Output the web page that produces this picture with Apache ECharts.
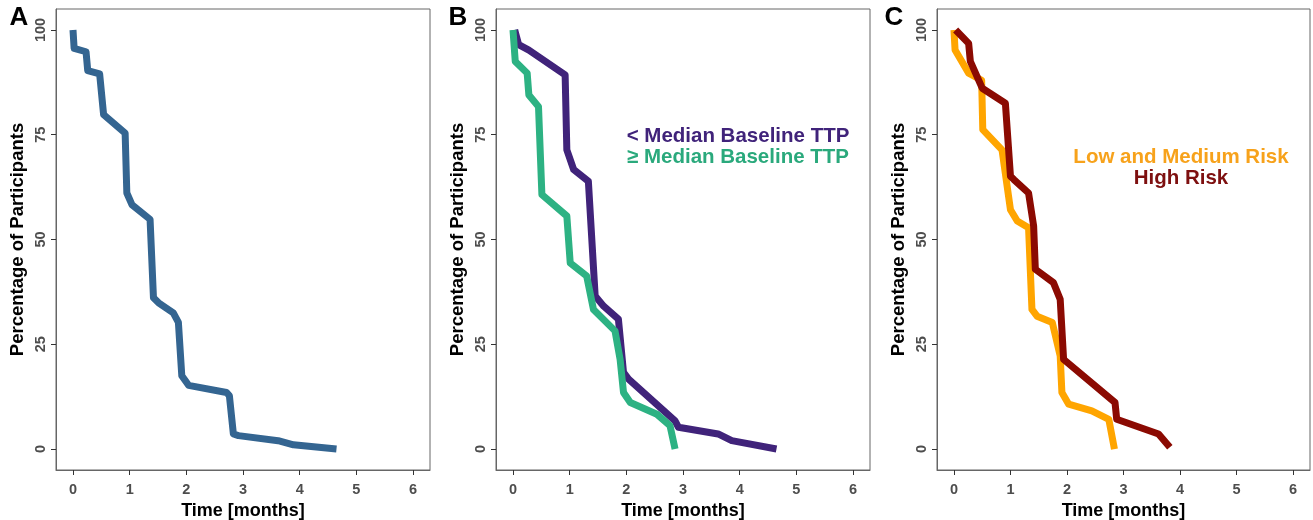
<!DOCTYPE html>
<html>
<head>
<meta charset="utf-8">
<script src="https://cdn.jsdelivr.net/npm/echarts@6/dist/echarts.min.js"></script>
<style>
html,body{margin:0;padding:0;background:#fff;}
#chart{width:1313px;height:520px;}
</style>
</head>
<body>
<div id="chart"></div>
<script>
// ---- Data ----
const xTicks = [0, 1, 2, 3, 4, 5, 6];
const yTicks = [0, 25, 50, 75, 100];

// Panel A: all participants
const timeA = [0, 0.02, 0.23, 0.26, 0.47, 0.54, 0.92, 0.95, 1.04, 1.36, 1.42, 1.51, 1.77, 1.86, 1.92, 2.04, 2.71, 2.76, 2.83, 2.92, 3.62, 3.89, 4.65];
const pctA  = [100, 95.6, 94.8, 90.3, 89.5, 79.8, 75.4, 61.1, 58.3, 54.8, 36.1, 34.9, 32.5, 30.2, 17.5, 15.2, 13.5, 12.7, 3.6, 3.2, 2.0, 1.0, 0];

// Panel B: < median baseline TTP
const timeBlow = [0.03, 0.1, 0.28, 0.92, 0.95, 1.07, 1.33, 1.45, 1.6, 1.86, 1.95, 2.04, 2.86, 2.92, 3.62, 3.86, 4.65];
const pctBlow  = [100, 96.5, 95.2, 89.3, 71.4, 66.7, 63.9, 36.5, 34.1, 31.0, 18.3, 16.7, 6.7, 5.2, 3.6, 2.0, 0];
// Panel B: >= median baseline TTP
const timeBhigh = [0, 0.04, 0.25, 0.28, 0.45, 0.51, 0.95, 1.01, 1.3, 1.42, 1.8, 1.89, 1.95, 2.07, 2.54, 2.77, 2.86];
const pctBhigh  = [100, 92.5, 89.7, 84.5, 81.7, 60.7, 55.6, 44.4, 41.3, 33.3, 28.2, 21.4, 13.5, 11.1, 8.3, 5.6, 0];

// Panel C: low and medium risk
const timeClow = [0, 0.02, 0.26, 0.49, 0.51, 0.85, 1.0, 1.12, 1.32, 1.38, 1.47, 1.74, 1.88, 1.91, 2.03, 2.44, 2.74, 2.84];
const pctClow  = [100, 95.2, 89.7, 88.0, 76.2, 71.4, 57.1, 54.4, 52.8, 33.3, 31.7, 30.2, 22.2, 13.5, 10.7, 9.1, 7.1, 0];
// Panel C: high risk
const timeChigh = [0.03, 0.26, 0.29, 0.5, 0.91, 1.0, 1.06, 1.32, 1.41, 1.44, 1.76, 1.88, 1.94, 2.85, 2.88, 3.62, 3.82];
const pctChigh  = [100, 96.8, 92.5, 86.1, 82.5, 65.1, 64.3, 61.1, 53.2, 42.9, 39.7, 35.7, 21.4, 11.1, 7.1, 3.6, 0.4];

const legendB = ['< Median Baseline TTP', '≥ Median Baseline TTP'];
const legendC = ['Low and Medium Risk', 'High Risk'];
const panelLetters = ['A', 'B', 'C'];

// ---- Chart ----
const FONT = '"Liberation Sans", Arial, Helvetica, sans-serif';
const zip = (t, p) => t.map((v, i) => [v, p[i]]);

const grids = [
  {left: 56, top: 9, width: 374, height: 461},
  {left: 496, top: 9, width: 374, height: 461},
  {left: 937, top: 9, width: 373, height: 461}
].map(g => Object.assign({show: true, borderColor: '#666', borderWidth: 1, containLabel: false, outerBoundsMode: 'none'}, g));

const xAxes = grids.map((g, i) => ({
  gridIndex: i, type: 'value', min: -0.3, max: 6.3,
  axisLine: {show: true, onZero: false, lineStyle: {color: '#666', width: 1}},
  axisTick: {show: true, customValues: xTicks, length: 5, lineStyle: {color: '#333', width: 1}},
  axisLabel: {customValues: xTicks, color: '#4d4d4d', fontWeight: 'bold', fontSize: 14.5, fontFamily: FONT, margin: 12},
  splitLine: {show: false},
  name: 'Time [months]', nameLocation: 'middle', nameGap: 24,
  nameTextStyle: {fontWeight: 'bold', fontSize: 18, color: '#000', fontFamily: FONT}
}));

const yAxes = grids.map((g, i) => ({
  gridIndex: i, type: 'value', min: -5, max: 105,
  axisLine: {show: true, onZero: false, lineStyle: {color: '#666', width: 1}},
  axisTick: {show: true, customValues: yTicks, length: 5, lineStyle: {color: '#333', width: 1}},
  axisLabel: {customValues: yTicks, rotate: 90, color: '#4d4d4d', fontWeight: 'bold', fontSize: 14.5, fontFamily: FONT, margin: 8},
  splitLine: {show: false},
  name: 'Percentage of Participants', nameLocation: 'middle', nameGap: 29,
  nameTextStyle: {fontWeight: 'bold', fontSize: 18.5, color: '#000', fontFamily: FONT}
}));

const mkLine = (idx, data, color) => ({
  type: 'line', xAxisIndex: idx, yAxisIndex: idx, data: data,
  showSymbol: false, symbol: 'none', smooth: false,
  lineStyle: {color: color, width: 7, join: 'round', cap: 'butt'},
  silent: true
});

const series = [
  mkLine(0, zip(timeA, pctA), '#346591'),
  mkLine(1, zip(timeBlow, pctBlow), '#40237a'),
  mkLine(1, zip(timeBhigh, pctBhigh), '#2db283'),
  mkLine(2, zip(timeClow, pctClow), '#ffa500'),
  mkLine(2, zip(timeChigh, pctChigh), '#8b0a02')
];

const letterPos = [[19, 18], [458, 18], [894, 18]];
const graphic = panelLetters.map((L, i) => ({
  type: 'text', x: letterPos[i][0], y: letterPos[i][1],
  style: {text: L, font: 'bold 26px ' + FONT, fill: '#000', align: 'center', verticalAlign: 'middle'}
}));
graphic.push(
  {type: 'text', x: 738, y: 136, style: {text: legendB[0], font: 'bold 20.5px ' + FONT, fill: '#40237a', align: 'center', verticalAlign: 'middle'}},
  {type: 'text', x: 738, y: 157, style: {text: legendB[1], font: 'bold 20.5px ' + FONT, fill: '#2aa97c', align: 'center', verticalAlign: 'middle'}},
  {type: 'text', x: 1181, y: 157, style: {text: legendC[0], font: 'bold 20.5px ' + FONT, fill: '#f7a21b', align: 'center', verticalAlign: 'middle'}},
  {type: 'text', x: 1181, y: 178, style: {text: legendC[1], font: 'bold 20.5px ' + FONT, fill: '#7e1010', align: 'center', verticalAlign: 'middle'}}
);

const chart = echarts.init(document.getElementById('chart'), null, {renderer: 'canvas'});
chart.setOption({
  animation: false,
  backgroundColor: '#fff',
  grid: grids,
  xAxis: xAxes,
  yAxis: yAxes,
  series: series,
  graphic: graphic
});
</script>
</body>
</html>
